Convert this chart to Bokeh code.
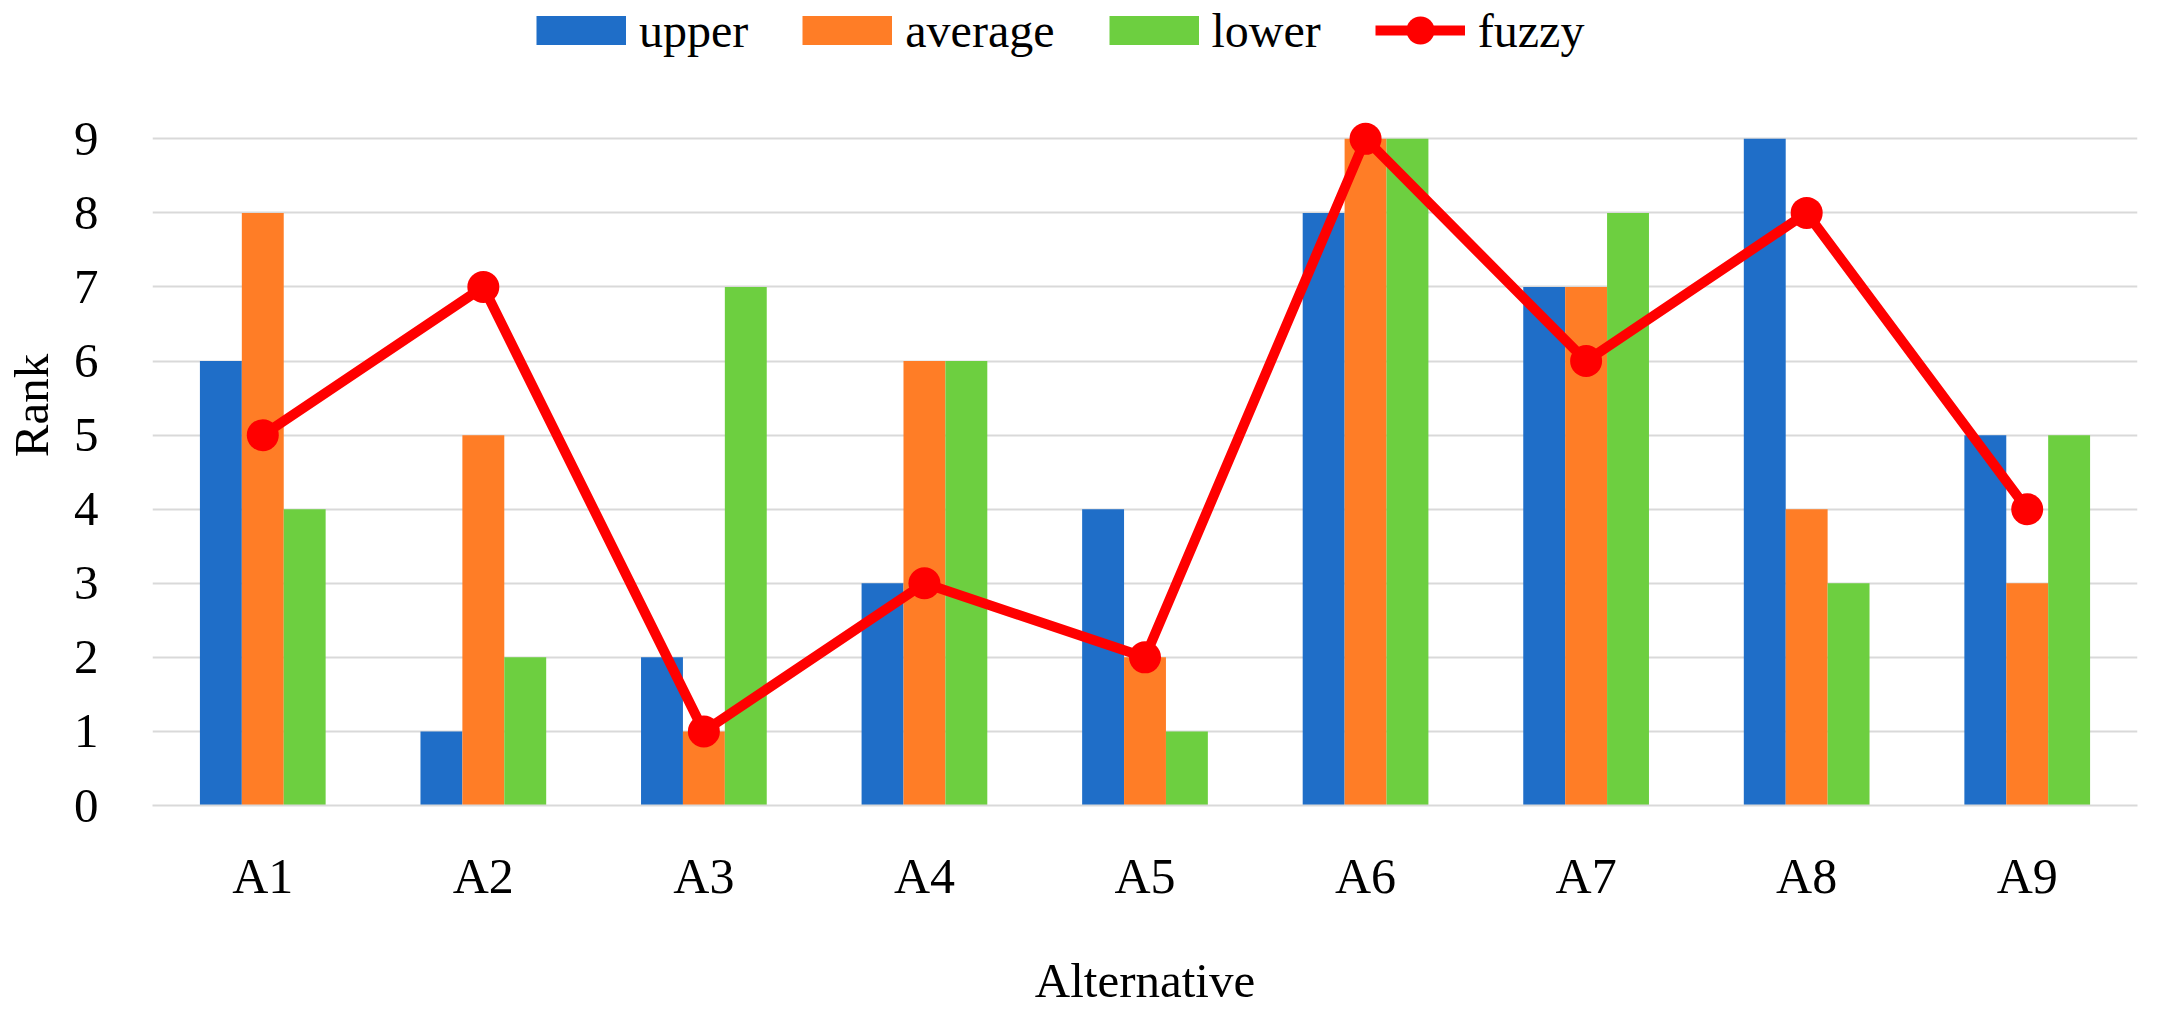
from bokeh.plotting import figure
from bokeh.models import ColumnDataSource, FactorRange, Legend, LegendItem, FixedTicker
from bokeh.transform import dodge
from bokeh.embed import file_html
from bokeh.resources import INLINE

categories = ["A1", "A2", "A3", "A4", "A5", "A6", "A7", "A8", "A9"]
upper = [6, 1, 2, 3, 4, 8, 7, 9, 5]
average = [8, 5, 1, 6, 2, 9, 7, 4, 3]
lower = [4, 2, 7, 6, 1, 9, 8, 3, 5]
fuzzy = [5, 7, 1, 3, 2, 9, 6, 8, 4]
y_ticks = [0, 1, 2, 3, 4, 5, 6, 7, 8, 9]

FONT = "Liberation Serif"
BLUE, ORANGE, GREEN, RED = "#1F6EC8", "#FF7D26", "#6DCF40", "#FF0000"

src = ColumnDataSource(dict(cat=categories, upper=upper, average=average,
                            lower=lower, fuzzy=fuzzy))

# frame reaches nearly the top so that the legend sits inside it
p = figure(width=2151, height=1010, x_range=FactorRange(*categories),
           y_range=(0, 10.80), output_backend="svg", toolbar_location=None,
           min_border_left=140, min_border_right=14, min_border_top=5,
           min_border_bottom=196)
p.outline_line_color = None
p.background_fill_color = "white"

bw = 0.19
r_up = p.vbar(x=dodge("cat", -bw, range=p.x_range), top="upper", width=bw,
              source=src, color=BLUE, line_color=None)
r_av = p.vbar(x=dodge("cat", 0, range=p.x_range), top="average", width=bw,
              source=src, color=ORANGE, line_color=None)
r_lo = p.vbar(x=dodge("cat", bw, range=p.x_range), top="lower", width=bw,
              source=src, color=GREEN, line_color=None)
r_line = p.line(x="cat", y="fuzzy", source=src, line_color=RED, line_width=10,
                line_join="round")
r_pts = p.scatter(x="cat", y="fuzzy", source=src, marker="circle", size=32,
                  fill_color=RED, line_color=None)

# legend swatches: thick lines (kept below the visible y range) that draw as
# flat rectangles in the legend
off = ColumnDataSource(dict(x=["A1", "A2"], y=[-20, -20]))
sw_up = p.line(x="x", y="y", source=off, line_color=BLUE, line_width=29, line_cap="butt")
sw_av = p.line(x="x", y="y", source=off, line_color=ORANGE, line_width=29, line_cap="butt")
sw_lo = p.line(x="x", y="y", source=off, line_color=GREEN, line_width=29, line_cap="butt")

# axes
p.yaxis.ticker = FixedTicker(ticks=y_ticks)
p.yaxis.axis_line_color = None
p.yaxis.major_tick_line_color = None
p.yaxis.minor_tick_line_color = None
p.yaxis.major_label_standoff = 48
p.yaxis.major_label_text_font = FONT
p.yaxis.major_label_text_font_size = "49px"
p.yaxis.major_label_text_color = "black"
p.yaxis.axis_label = "Rank"
p.yaxis.axis_label_text_font = FONT
p.yaxis.axis_label_text_font_size = "49px"
p.yaxis.axis_label_text_font_style = "normal"
p.yaxis.axis_label_text_color = "black"
p.yaxis.axis_label_standoff = 12

p.xaxis.axis_line_color = "#d9d9d9"
p.xaxis.axis_line_width = 2
p.xaxis.major_tick_line_color = None
p.xaxis.minor_tick_line_color = None
p.xaxis.major_label_standoff = 36
p.xaxis.major_label_text_font = FONT
p.xaxis.major_label_text_font_size = "50px"
p.xaxis.major_label_text_color = "black"
p.xaxis.axis_label = "Alternative"
p.xaxis.axis_label_text_font = FONT
p.xaxis.axis_label_text_font_size = "49px"
p.xaxis.axis_label_text_font_style = "normal"
p.xaxis.axis_label_text_color = "black"
p.xaxis.axis_label_standoff = 46

p.xgrid.grid_line_color = None
p.ygrid.grid_line_color = "#d9d9d9"
p.ygrid.grid_line_width = 2

legend = Legend(items=[
    LegendItem(label="upper", renderers=[sw_up]),
    LegendItem(label="average", renderers=[sw_av]),
    LegendItem(label="lower", renderers=[sw_lo]),
    LegendItem(label="fuzzy", renderers=[r_line, r_pts]),
], orientation="horizontal", location=(384, 740),
    glyph_width=90, glyph_height=70, label_standoff=13, spacing=54,
    padding=0, margin=0, border_line_color=None, background_fill_alpha=0,
    label_text_font=FONT, label_text_font_size="48px", label_text_color="black")
p.add_layout(legend, "center")

open("out.html", "w").write(file_html(p, INLINE))
